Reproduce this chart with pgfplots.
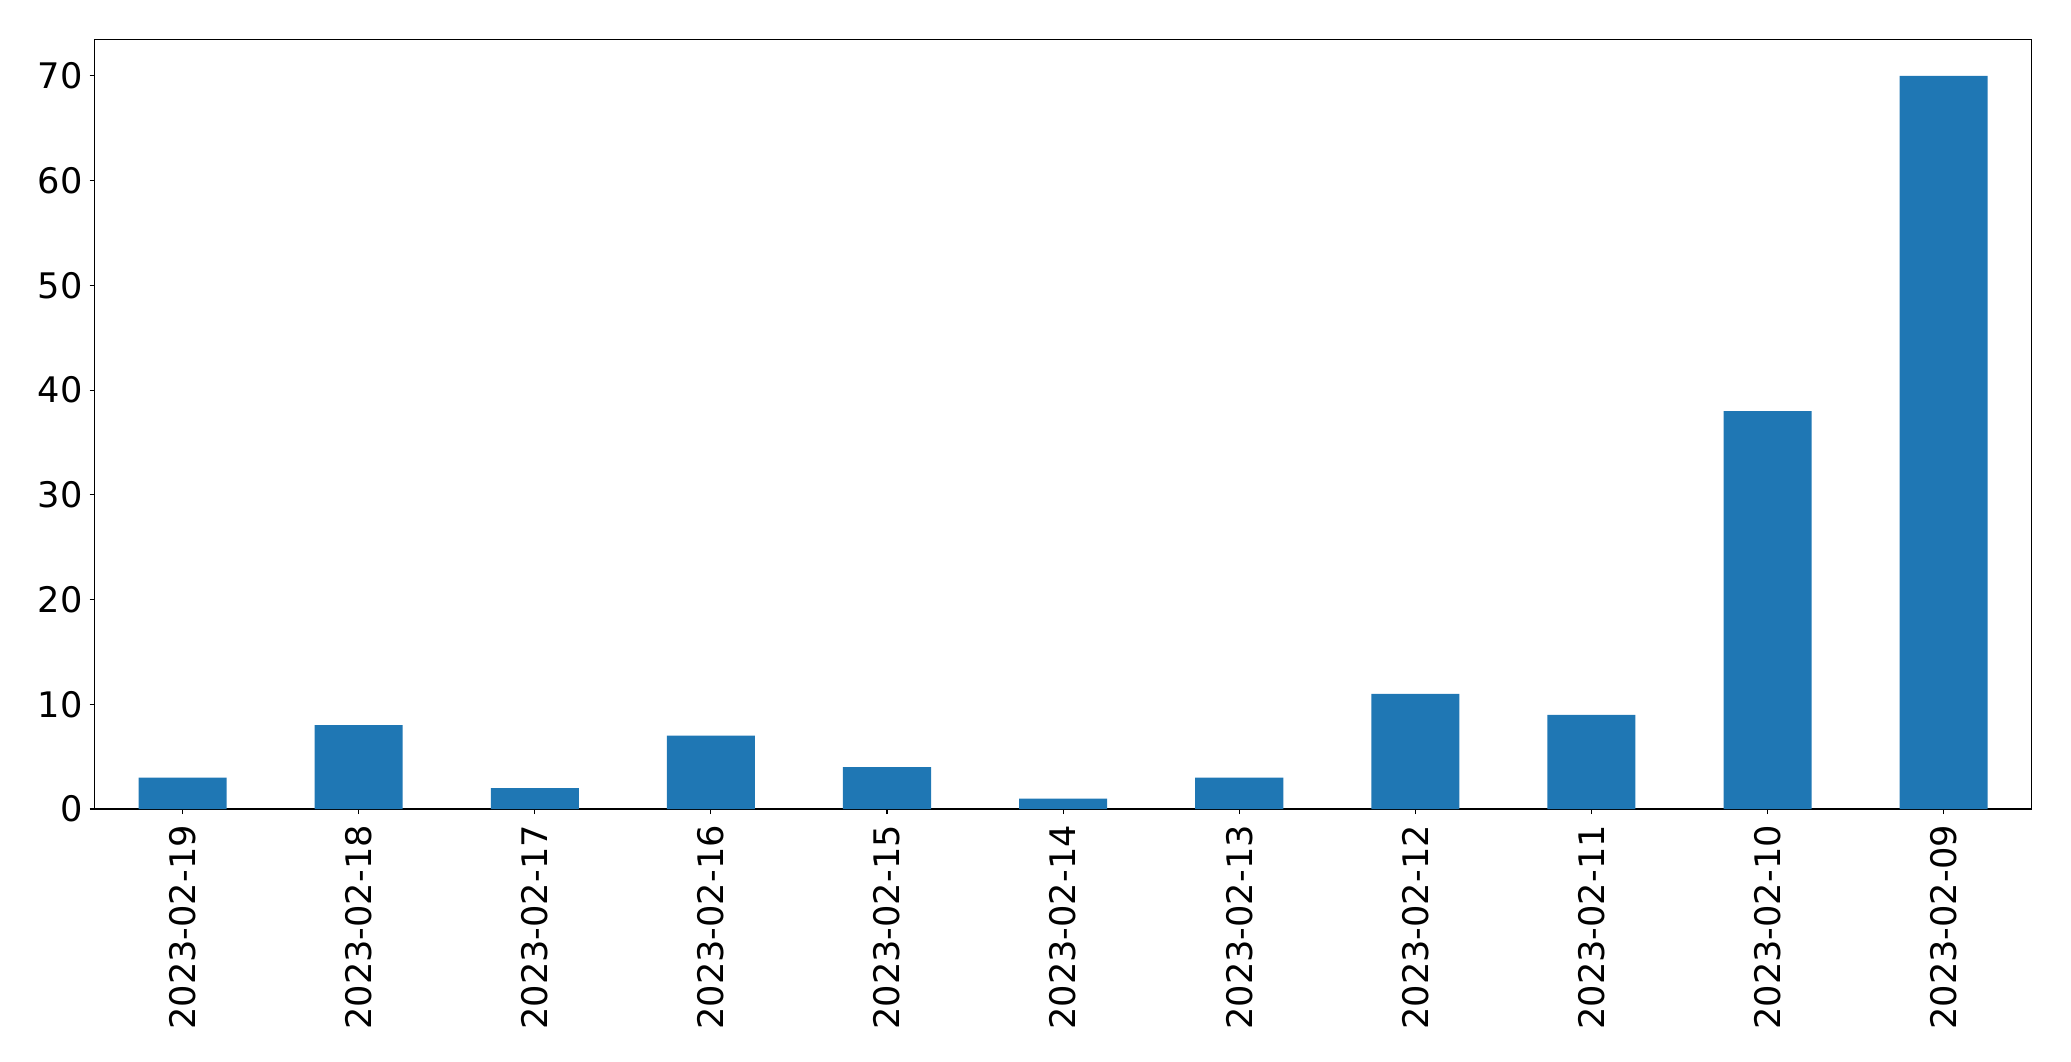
\documentclass[border=0pt]{standalone}
\usepackage{pgfplots}
\pgfplotsset{compat=1.18}
\usepackage{fontspec}
\setmainfont{DejaVu Sans}
\definecolor{mplblue}{HTML}{1F77B4}
\begin{document}
\begin{tikzpicture}
\begin{axis}[
  scale only axis, width=968.6pt, height=384.85pt,
  xmin=-0.5, xmax=10.5, ymin=0, ymax=73.5,
  xtick={0,1,2,3,4,5,6,7,8,9,10},
  xticklabels={2023-02-19,2023-02-18,2023-02-17,2023-02-16,2023-02-15,2023-02-14,2023-02-13,2023-02-12,2023-02-11,2023-02-10,2023-02-09},
  ytick={0,10,20,30,40,50,60,70},
  xtick pos=lower, ytick pos=left,
  tick align=outside, major tick length=2.5pt,
  tick style={black, line width=0.55pt},
  axis line style={line width=0.55pt},
  /pgf/number format/assume math mode=true,
  x tick label style={yshift=-2pt, rotate=90, anchor=east, font=\fontsize{17.6}{20}\selectfont},
  y tick label style={font=\fontsize{17.6}{20}\selectfont},
]
\addplot[ybar, bar width=0.5, fill=mplblue, draw=none] coordinates {
(0,3) (1,8) (2,2) (3,7) (4,4) (5,1) (6,3) (7,11) (8,9) (9,38) (10,70)};
\end{axis}
\path (current axis.south west) ++(-47.25pt,-126pt) coordinate (bl);
\path (current axis.north east) ++(19.65pt,19.65pt) coordinate (tr);
\path (bl) rectangle (tr);
\end{tikzpicture}
\end{document}
